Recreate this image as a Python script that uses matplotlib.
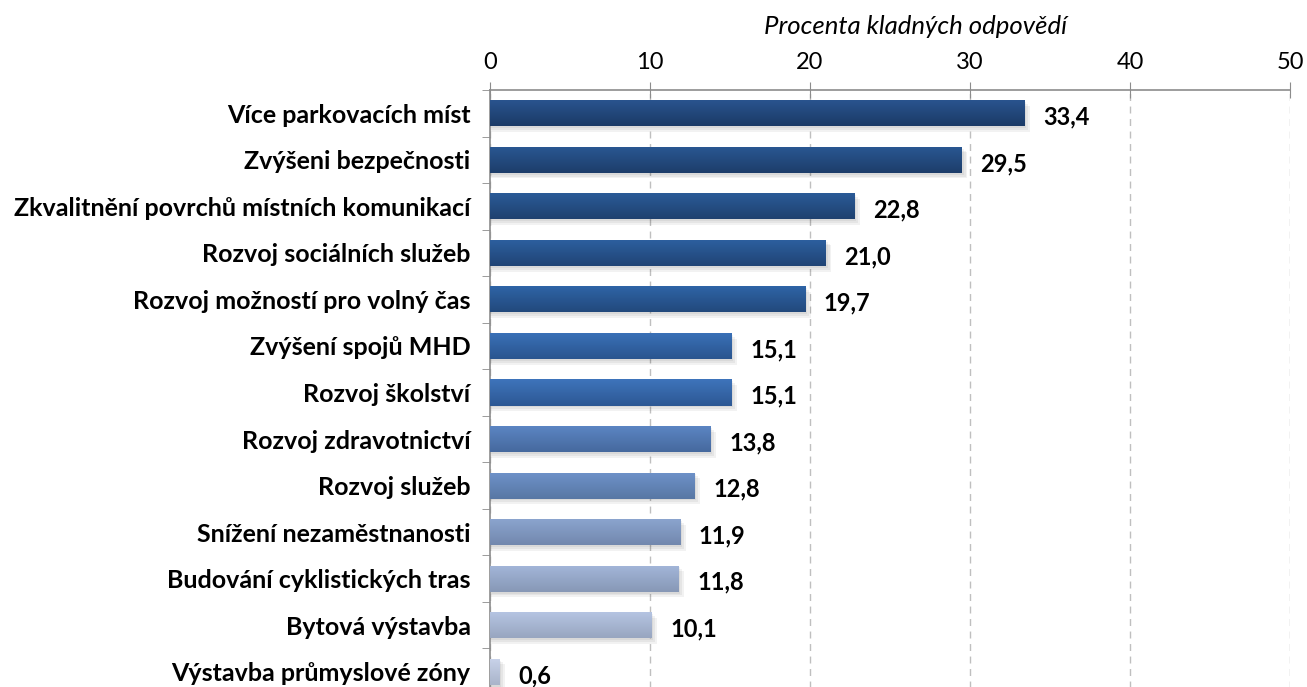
import matplotlib
matplotlib.use("Agg")
import matplotlib.pyplot as plt
import numpy as np
from matplotlib.colors import LinearSegmentedColormap

categories = [
    "Více parkovacích míst",
    "Zvýšeni bezpečnosti",
    "Zkvalitnění povrchů místních komunikací",
    "Rozvoj sociálních služeb",
    "Rozvoj možností pro volný čas",
    "Zvýšení spojů MHD",
    "Rozvoj školství",
    "Rozvoj zdravotnictví",
    "Rozvoj služeb",
    "Snížení nezaměstnanosti",
    "Budování cyklistických tras",
    "Bytová výstavba",
    "Výstavba průmyslové zóny",
]
values = [33.4, 29.5, 22.8, 21.0, 19.7, 15.1, 15.1, 13.8, 12.8, 11.9, 11.8, 10.1, 0.6]
value_labels = ["33,4", "29,5", "22,8", "21,0", "19,7", "15,1", "15,1", "13,8", "12,8", "11,9", "11,8", "10,1", "0,6"]
xticks = [0, 10, 20, 30, 40, 50]
axis_title = "Procenta kladných odpovědí"

# top / bottom gradient colours for each bar
top_colors = ["#2A5590", "#2A5893", "#2B5C99", "#2D60A0", "#2F65A8", "#3A71B8", "#3E74BB",
              "#5C86C4", "#6E92C9", "#8CA5CF", "#A3B6D9", "#B6C5E3", "#C9D3EA"]
bot_colors = ["#1B3A66", "#1D3D6A", "#1F416F", "#204475", "#22497C", "#2A558F", "#2D5894",
              "#46699E", "#5877A4", "#7288AE", "#8798B6", "#98A6C0", "#A9B4CA"]

fontfam = ["Lato", "DejaVu Sans"]

fig = plt.figure(figsize=(13.07, 6.87), dpi=100)
ax = fig.add_axes([490/1307, (687-695)/687, 800/1307, (695-90)/687])

n = len(categories)
ypos = np.arange(n)
h = 0.56
ax.set_xlim(0, 50)
ax.set_ylim(n - 0.5, -0.5)

for i, (v, tc, bc) in enumerate(zip(values, top_colors, bot_colors)):
    # soft shadow
    for k, a in enumerate([0.05, 0.05, 0.05]):
        d = 0.04 + 0.04 * k
        ax.barh(i + d, v + 0.1 + 0.12 * k, height=h, left=0, color="#000000", alpha=a,
                zorder=2, linewidth=0)
    bar = ax.barh(i, v, height=h, left=0, color="none", linewidth=0, zorder=3)[0]
    cmap = LinearSegmentedColormap.from_list("g", [tc, bc])
    grad = np.linspace(0, 1, 64).reshape(-1, 1)
    im = ax.imshow(grad, cmap=cmap, aspect="auto", extent=(0, v, i + h/2, i - h/2),
                   zorder=3, interpolation="bilinear")
    im.set_clip_path(bar)
    ax.text(v + 1.15, i + 0.08, value_labels[i], va="center", ha="left",
            fontsize=17, fontweight="bold", family=fontfam, color="black", zorder=4)

ax.set_yticks(ypos)
ax.set_yticklabels(categories, fontsize=18, fontweight="bold", family=fontfam)
ax.tick_params(axis="y", length=0, pad=14)
ax.set_yticks(np.arange(-0.5, n, 1), minor=True)
ax.tick_params(axis="y", which="minor", length=6, direction="out", color="#8C8C8C")

ax.xaxis.tick_top()
ax.xaxis.set_label_position("top")
ax.set_xticks(xticks)
ax.set_xticklabels([str(t) for t in xticks], fontsize=17, family=fontfam)
ax.tick_params(axis="x", direction="inout", length=11, color="#8C8C8C", pad=7)
ax.set_xlabel(axis_title, fontsize=18.5, style="italic", family=fontfam, va="center")
ax.xaxis.set_label_coords((916 - 490) / 800, 1 + (90 - 27) / 605)

ax.grid(axis="x", linestyle=(0, (5, 4)), color="#BFBFBF", linewidth=1, zorder=0)
ax.set_axisbelow(True)
for s in ["right", "bottom"]:
    ax.spines[s].set_visible(False)
for s in ["top", "left"]:
    ax.spines[s].set_color("#8C8C8C")
    ax.spines[s].set_linewidth(1.2)

fig.savefig("out.png", dpi=100)
